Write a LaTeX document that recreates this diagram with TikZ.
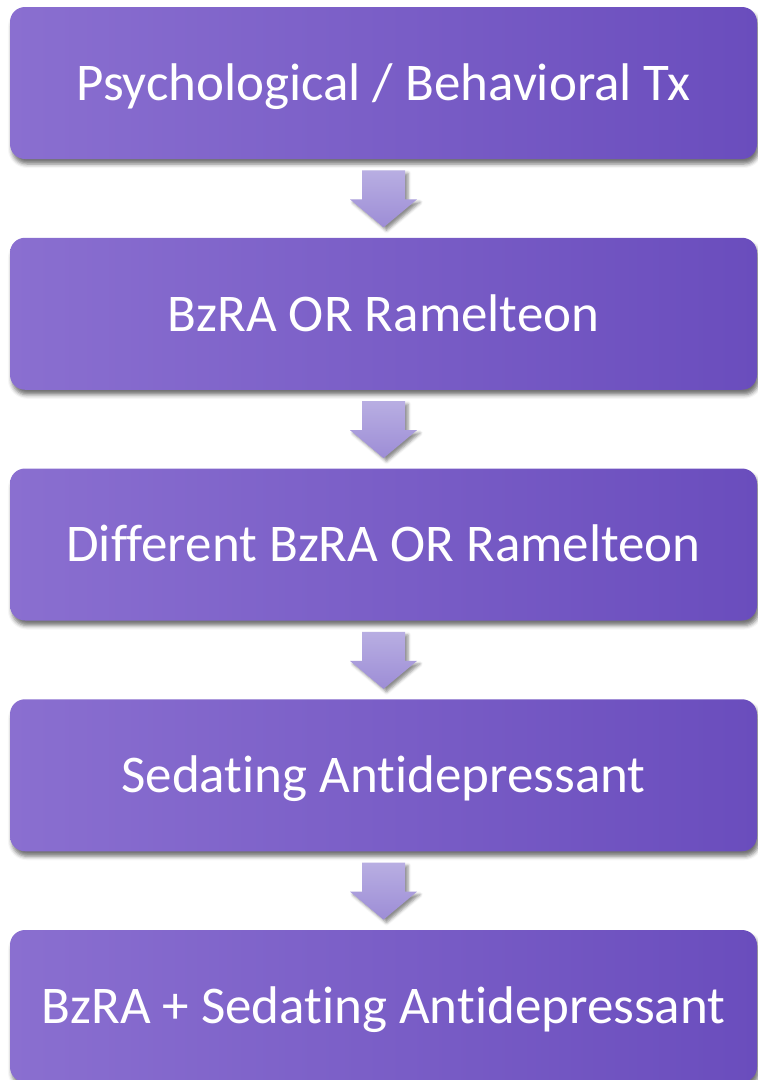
\documentclass[tikz,border=0pt]{standalone}
\usepackage{fontspec}
\setmainfont[RawFeature={-liga;-clig;-dlig}]{Carlito}
\usetikzlibrary{positioning,calc,shadows.blur}

\definecolor{boxleft}{HTML}{8A6FD0}
\definecolor{boxmid}{HTML}{7E5ED6}
\definecolor{boxright}{HTML}{6A4DBD}
\definecolor{arrtop}{HTML}{B8AEE2}
\definecolor{arrbot}{HTML}{9D8DD6}

\tikzset{every picture/.style={line width=0.75pt}}
\tikzset{
  stepbox/.style={rounded corners=15pt, minimum width=747pt, minimum height=152pt,
    left color=boxleft, middle color=boxmid, right color=boxright, draw=none,
    text=white, font=\fontsize{53}{60}\selectfont, text depth=2pt,
    blur shadow={shadow xshift=2pt, shadow yshift=-5pt, shadow blur radius=4pt, shadow opacity=55}},
  downarrow/.style={draw=none, top color=arrtop, bottom color=arrbot,
    blur shadow={shadow xshift=3pt, shadow yshift=-3pt, shadow blur radius=3pt, shadow opacity=45}}
}

\begin{document}
\begin{tikzpicture}[x=1pt, y=-1pt]
    \useasboundingbox (0,0) rectangle (758,1080);
    \node[stepbox] (psych) at (383.5,83) {Psychological / Behavioral Tx};
    \node[stepbox, below=78pt of psych] (bzra) {BzRA OR Ramelteon};
    \node[stepbox, below=78pt of bzra] (diff) {Different BzRA OR Ramelteon};
    \node[stepbox, below=78pt of diff] (sedat) {Sedating Antidepressant};
    \node[stepbox, below=78pt of sedat] (combo) {BzRA + Sedating Antidepressant};
    % block arrows between the steps
    \foreach \a/\b in {psych/bzra, bzra/diff, diff/sedat, sedat/combo}
        \path[downarrow] ($(\a.south)+(-21.5,11)$) -- ++(43,0) -- ++(0,29) -- ++(12,0)
            -- ++(-33.5,28) -- ++(-33.5,-28) -- ++(12,0) -- cycle;
\end{tikzpicture}
\end{document}
